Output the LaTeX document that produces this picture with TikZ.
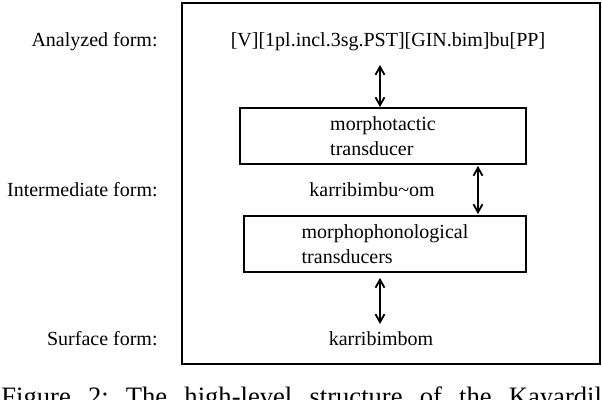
\documentclass[tikz,border=0pt]{standalone}
\usepackage{fontspec}
\setmainfont{Liberation Serif}
\usetikzlibrary{arrows.meta}

\begin{document}
\begin{tikzpicture}[x=0.5pt, y=-0.5pt,
    form/.style={anchor=base, inner sep=0pt, font=\fontsize{10}{12}\selectfont},
    levelname/.style={form, anchor=base east},
    transducer/.style={draw, line width=0.9pt, minimum height=28pt, inner sep=0pt,
      align=left, font=\fontsize{10}{12.4}\selectfont},
    biarrow/.style={{Straight Barb[length=4pt,width=4.5pt]}-{Straight Barb[length=4pt,width=4.5pt]},
      line width=0.9pt}]
  \useasboundingbox (0,0) rectangle (602,400);
  \clip (0,0) rectangle (602,400);
  % frame
  \draw[line width=0.9pt] (182,3) rectangle (600,364);
  % level names
  \node[levelname] (lanalyzed) at (158,47) {Analyzed form:};
  \node[levelname] (linter) at (158,197) {Intermediate form:};
  \node[levelname] (lsurface) at (158,346) {Surface form:};
  % forms
  \node[form] (analyzed) at (388,47) {[V][1pl.incl.3sg.PST][GIN.bim]bu[PP]};
  \node[form] (inter) at (372,197) {karribimbu\char`\~om};
  \node[form] (surface) at (381,346) {karribimbom};
  % transducers
  \node[transducer, minimum width=143pt] (tactic) at (383,136) {morphotactic\\transducer};
  \node[transducer, minimum width=141pt] (phono) at (385,244) {morphophonological\\transducers};
  % arrows
  \coordinate (top1) at (380,65);
  \coordinate (mid2) at (478,0);
  \coordinate (bot3) at (380,324);
  \draw[biarrow] (top1) -- (top1 |- tactic.north);
  \draw[biarrow] ([yshift=-0.5pt]tactic.south -| mid2) -- ([yshift=0.5pt]phono.north -| mid2);
  \draw[biarrow] ([yshift=-2.5pt]phono.south -| bot3) -- (bot3);
  % caption (cut off)
  \node[anchor=base west, inner sep=0pt, font=\fontsize{13.3}{16}\selectfont] (caption) at (1,406)
    {\spaceskip=8.6pt\xspaceskip=8.6pt Figure 2: The high-level structure of the Kayardild};
\end{tikzpicture}
\end{document}
